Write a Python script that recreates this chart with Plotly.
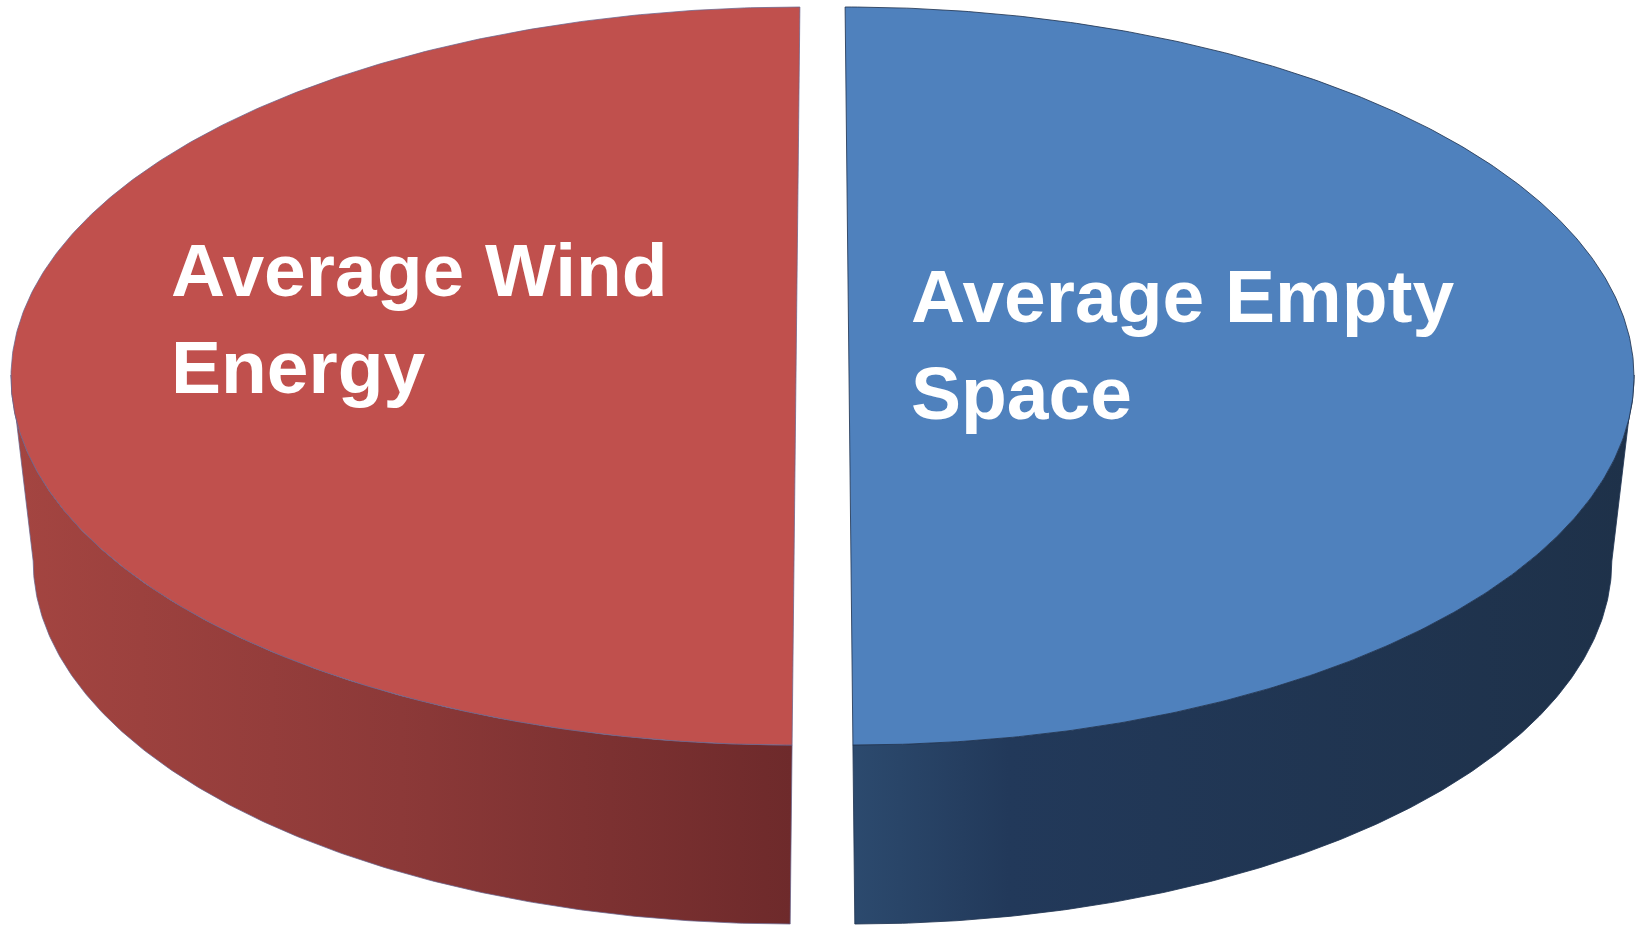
import numpy as np
import plotly.graph_objects as go

# ---- data ----
labels = ["Average Wind Energy", "Average Empty Space"]
values = [50, 50]
label_lines = [["Average Wind", "Energy"], ["Average Empty", "Space"]]
top_colors = ["#C0504D", "#4F81BD"]
side_scales = [
    [[0.0, "#A44541"], [0.5, "#8C3938"], [1.0, "#6E2A2B"]],
    [[0.0, "#2C4A6E"], [0.2, "#22395A"], [1.0, "#1E3149"]],
]
edge_colors = ["rgba(105,100,140,0.75)", "rgba(35,55,85,0.85)"]

# ---- geometry (pixel-like coordinates, y downward) ----
W, H = 1642, 926
CX = 822.5
EXPLODE = 26.5
CY_TOP, A_TOP, B_BACK, B_FRONT = 375, 785, 368, 370
CY_BOT, A_BOT, B_BOT = 561, 757, 363
SHEAR = 0.0004
START = 90.0

total = float(sum(values))
fig = go.Figure()


def top_pt(cx, k, t):
    s, c = np.sin(t), np.cos(t)
    b = np.where(s > 0, B_BACK, B_FRONT)
    y = CY_TOP - b * s
    x = cx + A_TOP * c + k * (y - CY_TOP)
    return x, y


def bot_pt(cxb, t):
    return cxb + A_BOT * np.cos(t), CY_BOT - B_BOT * np.sin(t)


slices = []
ang = START
for i, v in enumerate(values):
    span = 360.0 * v / total
    if i == 0:
        t0, t1 = ang, ang + span          # counter-clockwise (left half)
    else:
        t0, t1 = START - span, START      # clockwise (right half)
    mid = np.radians((t0 + t1) / 2)
    dx = EXPLODE * np.cos(mid)
    cx = CX + dx
    k = SHEAR * dx
    slices.append((i, t0, t1, cx, k))

# sides first
for i, t0, t1, cx, k in slices:
    cxb = cx + k * (CY_BOT + B_BOT - CY_TOP)
    for lo, hi in [(-180, 0), (180, 360)]:
        a, b = max(t0, lo), min(t1, hi)
        if b <= a:
            continue
        tt = np.radians(np.linspace(a, b, 200))
        xt, yt = top_pt(cx, k, tt)
        xb, yb = bot_pt(cxb, tt[::-1])
        xs = np.concatenate([xt, xb, xt[:1]])
        ys = np.concatenate([yt, yb, yt[:1]])
        fig.add_trace(go.Scatter(
            x=xs, y=ys, mode="lines", fill="toself",
            line=dict(color=edge_colors[i], width=1),
            fillcolor=side_scales[i][-1][1],
            fillgradient=dict(type="horizontal", colorscale=side_scales[i]),
            hoverinfo="skip", showlegend=False))

# top faces
for i, t0, t1, cx, k in slices:
    tt = np.radians(np.linspace(t0, t1, 400))
    xt, yt = top_pt(cx, k, tt)
    xs = np.concatenate([xt, [cx], xt[:1]])
    ys = np.concatenate([yt, [CY_TOP], yt[:1]])
    fig.add_trace(go.Scatter(
        x=xs, y=ys, mode="lines", fill="toself",
        line=dict(color=edge_colors[i], width=1),
        fillcolor=top_colors[i], name=labels[i],
        hoverinfo="name", showlegend=False))

# labels
FONT_SIZE = 75
label_pos = [(169, 270), (909, 296)]
LINE_GAP = 97
annotations = []
for i, lines in enumerate(label_lines):
    x0, y0 = label_pos[i]
    for j, txt in enumerate(lines):
        annotations.append(dict(
            x=x0, y=y0 + j * LINE_GAP, xref="x", yref="y",
            text=txt, showarrow=False, xanchor="left", yanchor="middle",
            font=dict(family="Liberation Sans, Arial, sans-serif", size=FONT_SIZE,
                      color="white", weight="bold")))

fig.update_layout(
    width=W, height=H,
    margin=dict(l=0, r=0, t=0, b=0),
    paper_bgcolor="white", plot_bgcolor="white",
    xaxis=dict(range=[0, W], visible=False, fixedrange=True),
    yaxis=dict(range=[H, 0], visible=False, fixedrange=True),
    annotations=annotations,
)

fig.write_html("out.html")
